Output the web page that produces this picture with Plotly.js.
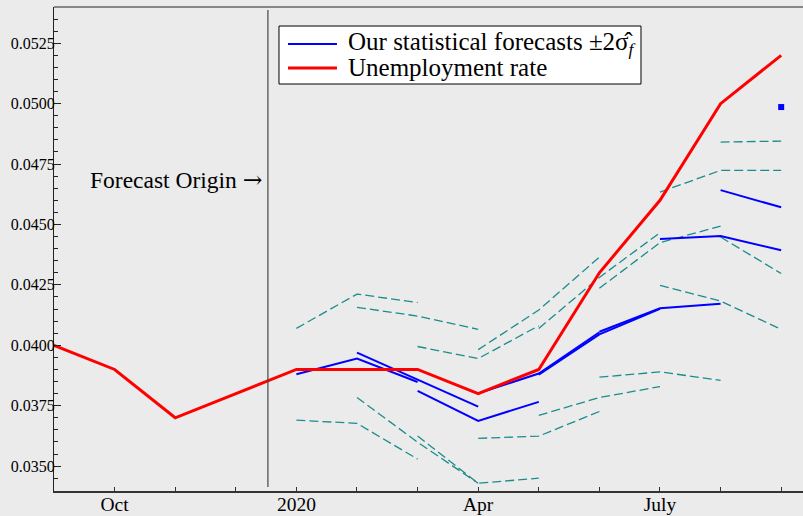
<!DOCTYPE html>
<html>
<head>
<meta charset="utf-8">
<script src="https://cdn.plot.ly/plotly-3.0.1.min.js"></script>
<style>html,body{margin:0;padding:0;overflow:hidden;background:#ebebeb;}</style>
</head>
<body>
<div id="chart" style="width:803px;height:516px;"></div>
<script>
// Months on the x axis (Sep 2019 .. Sep 2020)
const months = ["2019-09","2019-10","2019-11","2019-12","2020-01","2020-02","2020-03",
                "2020-04","2020-05","2020-06","2020-07","2020-08","2020-09"];
const tickLabels = ["", "Oct", "", "", "2020", "", "", "Apr", "", "", "July", "", ""];

// Actual unemployment rate
const unemp = [0.0400, 0.0390, 0.0370, 0.0380, 0.0390, 0.0390, 0.0390,
               0.0380, 0.0390, 0.0430, 0.0460, 0.0500, 0.0520];

// Rolling forecasts: first forecast month of each path
const fcStart = ["2020-01","2020-02","2020-03","2020-04","2020-05","2020-06","2020-07","2020-08","2020-09"];
// Point forecasts
const fcMean = [
  [0.03880, 0.03945, 0.03848],
  [0.03970, 0.03859, 0.03746],
  [0.03811, 0.03687, 0.03766],
  [0.03801, 0.03883, 0.04054],
  [0.03878, 0.04045, 0.04151],
  [0.04056, 0.04153, 0.04172],
  [0.04440, 0.04452, 0.04393],
  [0.04642, 0.04571],
  [0.04986]
];
// Upper band (+2 sigma)
const fcUpper = [
  [0.04070, 0.04212, 0.04177],
  [0.04157, 0.04121, 0.04066],
  [0.03995, 0.03945, 0.04081],
  [0.03982, 0.04146, 0.04365],
  [0.04070, 0.04281, 0.04466],
  [0.04236, 0.04425, 0.04493],
  [0.04634, 0.04724, 0.04724],
  [0.04841, 0.04845],
  []
];
// Lower band (-2 sigma)
const fcLower = [
  [0.03690, 0.03677, 0.03529],
  [0.03784, 0.03599, 0.03429],
  [0.03625, 0.03429, 0.03450],
  [0.03615, 0.03624, 0.03726],
  [0.03710, 0.03784, 0.03829],
  [0.03868, 0.03890, 0.03855],
  [0.04248, 0.04183, 0.04066],
  [0.04448, 0.04297],
  []
];

const legendNames = ["Our statistical forecasts ±2σ̂<sub><i>f</i></sub>", "Unemployment rate"];

const FONT = "Liberation Serif, Times New Roman, serif";
const BLUE = "#0000ff", RED = "#ff0000", TEAL = "#1b8c8c";

function xsFor(start, n) {
  const i0 = months.indexOf(start);
  return months.slice(i0, i0 + n);
}

const traces = [];
// dashed bands
fcStart.forEach((s, k) => {
  [fcUpper[k], fcLower[k]].forEach(band => {
    if (band.length < 2) return;
    traces.push({
      x: xsFor(s, band.length), y: band, type: "scatter", mode: "lines",
      line: {color: TEAL, width: 1.3, dash: "9px,4px"},
      showlegend: false, hoverinfo: "skip"
    });
  });
});
// point forecasts
fcStart.forEach((s, k) => {
  const m = fcMean[k];
  traces.push({
    x: xsFor(s, m.length), y: m, type: "scatter",
    mode: m.length > 1 ? "lines" : "markers",
    line: {color: BLUE, width: 2},
    marker: {color: BLUE, symbol: "square", size: 6},
    name: legendNames[0], showlegend: false
  });
});
// actual
traces.push({
  x: months, y: unemp, type: "scatter", mode: "lines",
  line: {color: RED, width: 3},
  name: legendNames[1], showlegend: false
});

// Legend box (drawn as shapes + text so its compact spacing matches)
const LX0 = 0.3004, LX1 = 0.7837, LY0 = 0.8409, LY1 = 0.9607;
const SX0 = 0.3124, SX1 = 0.3778, TX = 0.3899;
const ROW = [0.9236, 0.8740];

const layout = {
  width: 803, height: 516,
  margin: {l: 54, r: 0, t: 7, b: 25},
  paper_bgcolor: "#ebebeb", plot_bgcolor: "#ebebeb",
  font: {family: FONT, color: "#111"},
  showlegend: false,
  xaxis: {
    type: "category", categoryorder: "array", categoryarray: months,
    range: [0, 12.36],
    tickvals: months, ticktext: tickLabels,
    ticks: "inside", ticklen: 4, tickcolor: "#333", tickwidth: 1,
    ticklabelstandoff: -5,
    showline: true, linecolor: "#333", linewidth: 1.5,
    showgrid: false, zeroline: false,
    tickfont: {family: FONT, size: 19.5, color: "#000"}
  },
  yaxis: {
    range: [0.03397, 0.0540],
    tick0: 0.035, dtick: 0.0025, tickformat: ".4f",
    ticks: "inside", ticklen: 7, tickcolor: "#222", tickwidth: 1,
    ticklabelstandoff: -5,
    minor: {dtick: 0.0005, ticks: "inside", ticklen: 4, tickcolor: "#222", showgrid: false},
    showline: true, linecolor: "#222", linewidth: 1,
    showgrid: false, zeroline: false,
    tickfont: {family: FONT, size: 16, color: "#000"}
  },
  shapes: [
    {type: "line", xref: "x", yref: "paper", x0: 3.53, x1: 3.53, y0: 0.0084, y1: 0.994,
     line: {color: "#444", width: 1.2}},
    {type: "line", xref: "paper", yref: "paper", x0: 0, x1: 1, y0: 1, y1: 1,
     line: {color: "#222", width: 1}},
    {type: "rect", xref: "paper", yref: "paper", x0: LX0, x1: LX1, y0: LY0, y1: LY1,
     fillcolor: "#ffffff", line: {color: "#000", width: 1}},
    {type: "line", xref: "paper", yref: "paper", x0: SX0, x1: SX1, y0: ROW[0], y1: ROW[0],
     line: {color: BLUE, width: 2}},
    {type: "line", xref: "paper", yref: "paper", x0: SX0, x1: SX1, y0: ROW[1], y1: ROW[1],
     line: {color: RED, width: 3}}
  ],
  annotations: [
    {text: "Forecast Origin <span style='font-family:DejaVu Serif'>→</span>", xref: "paper", yref: "y", x: 0.2804, y: 0.04686,
     xanchor: "right", yanchor: "middle", showarrow: false,
     font: {family: FONT, size: 23.5, color: "#000"}},
    {text: legendNames[0], xref: "paper", yref: "paper", x: TX, y: ROW[0],
     xanchor: "left", yanchor: "middle", showarrow: false,
     font: {family: FONT, size: 25, color: "#000"}},
    {text: legendNames[1], xref: "paper", yref: "paper", x: TX, y: ROW[1],
     xanchor: "left", yanchor: "middle", showarrow: false,
     font: {family: FONT, size: 25, color: "#000"}}
  ]
};

Plotly.newPlot("chart", traces, layout, {displayModeBar: false, staticPlot: true});
</script>
</body>
</html>
